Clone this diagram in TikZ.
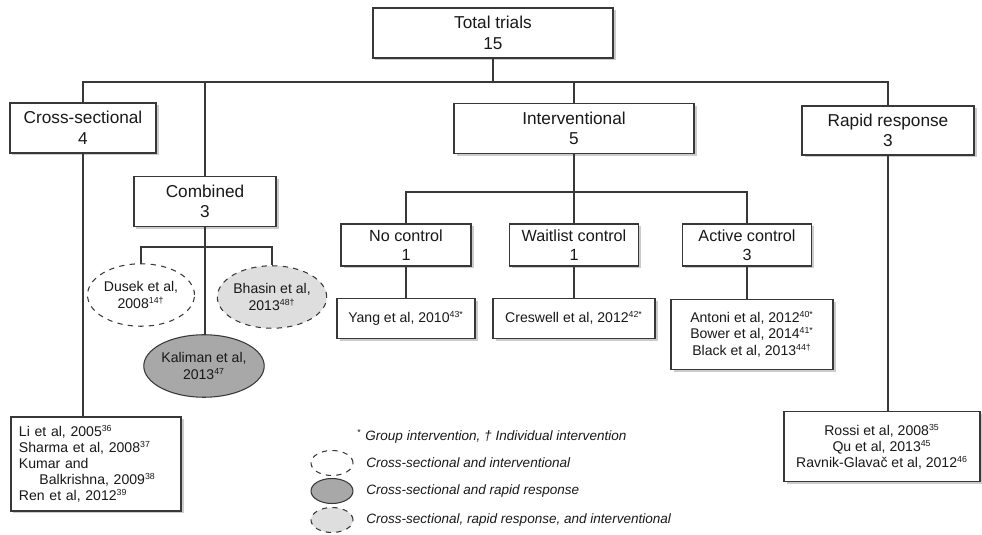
\documentclass[tikz,border=0pt]{standalone}
\usepackage{fontspec}
\setmainfont{Liberation Sans}
\usetikzlibrary{shapes.geometric,shadows}
\definecolor{linegray}{rgb}{0.22,0.22,0.22}
\definecolor{textgray}{rgb}{0.1,0.1,0.1}
\definecolor{lightfill}{rgb}{0.87,0.87,0.87}
\definecolor{darkfill}{rgb}{0.66,0.66,0.66}
\newcommand{\refno}[1]{\textsuperscript{\fontsize{5}{5}\selectfont #1}}

\begin{document}
\begin{tikzpicture}[x=0.2mm,y=-0.2mm,
    link/.style={draw=linegray,line width=0.6pt},
    box/.style={draw=linegray,line width=0.6pt,fill=white,inner sep=0pt,align=center,text=textgray,
      drop shadow={shadow xshift=0.5mm,shadow yshift=-0.5mm,fill=black,opacity=0.2}},
    bigbox/.style={box,font=\fontsize{9.8}{11.7}\selectfont},
    midbox/.style={box,font=\fontsize{9.2}{10.8}\selectfont},
    refbox/.style={box,font=\fontsize{8}{9.6}\selectfont},
    study/.style={ellipse,draw=linegray,line width=0.6pt,inner sep=0pt,align=center,text=textgray,
      font=\fontsize{8}{9.5}\selectfont,minimum width=21.4mm,minimum height=12.5mm},
    bothkind/.style={study,dashed,fill=white},
    rapidkind/.style={study,fill=darkfill},
    allkind/.style={study,dashed,fill=lightfill},
    keyshape/.style={minimum width=8.4mm,minimum height=5mm},
    legend/.style={font=\fontsize{7.7}{9}\selectfont\itshape,text=textgray,anchor=west,inner sep=0pt}]
    \useasboundingbox (0,0) rectangle (982,535);
    % top level
    \node[bigbox,minimum width=48mm,minimum height=10mm] (total) at (493,33) {Total trials\\15};
    \node[bigbox,minimum width=29.2mm,minimum height=10mm] (cross) at (83,128) {Cross-sectional\\4};
    \node[bigbox,minimum width=28.4mm,minimum height=9.9mm] (comb) at (205,201.5) {Combined\\3};
    \node[bigbox,minimum width=48mm,minimum height=10mm] (interv) at (574,128.3) {Interventional\\5};
    \node[bigbox,minimum width=34.4mm,minimum height=9.8mm] (rapid) at (888,130.5) {Rapid response\\3};
    % interventional branches
    \node[midbox,minimum width=26mm,minimum height=8.4mm] (noctl) at (406,245) {No control\\1};
    \node[midbox,minimum width=25.8mm,minimum height=8.4mm] (wait) at (574,245) {Waitlist control\\1};
    \node[midbox,minimum width=25.8mm,minimum height=8.4mm] (active) at (747,245) {Active control\\3};
    % studies
    \node[refbox,minimum width=27.6mm,minimum height=8mm] (yang) at (406,318.3) {Yang et al, 2010\refno{43*}};
    \node[refbox,minimum width=32.4mm,minimum height=8mm] (cres) at (574,318.3) {Creswell et al, 2012\refno{42*}};
    \node[refbox,minimum width=32.4mm,minimum height=14mm] (antoni) at (752,334.3)
      {Antoni et al, 2012\refno{40*}\\Bower et al, 2014\refno{41*}\\Black et al, 2013\refno{44†}};
    \node[refbox,font=\fontsize{8}{9.1}\selectfont,align=left,text width=30.8mm,inner xsep=1.6mm,minimum height=18.8mm] (li) at (96,464)
      {Li et al, 2005\refno{36}\\Sharma et al, 2008\refno{37}\\Kumar and\\\hspace*{4.1mm}Balkrishna, 2009\refno{38}\\Ren et al, 2012\refno{39}};
    \node[refbox,font=\fontsize{8}{9.3}\selectfont,minimum width=39.2mm,minimum height=14mm] (rossi) at (882,446.7)
      {Rossi et al, 2008\refno{35}\\Qu et al, 2013\refno{45}\\Ravnik-Glavač et al, 2012\refno{46}};
    % combined studies
    \node[bothkind] (dusek) at (141,295) {Dusek et al,\\2008\refno{14†}};
    \node[allkind] (bhasin) at (272,297) {Bhasin et al,\\2013\refno{48†}};
    \node[rapidkind] (kaliman) at (204,366) {Kaliman et al,\\2013\refno{47}};
    % connectors
    \coordinate (bus) at (493,82);
    \coordinate (ibus) at (574,192);
    \coordinate (cbus) at (205,247);
    \draw[link] (total.south) -- (bus);
    \draw[link] (cross.north) -- (cross.north |- bus) -- (rapid.north |- bus) -- (rapid.north);
    \draw[link] (comb.north) -- (comb.north |- bus);
    \draw[link] (interv.north) -- (interv.north |- bus);
    \draw[link] (interv.south) -- (ibus);
    \draw[link] (noctl.north) -- (noctl.north |- ibus) -- (active.north |- ibus) -- (active.north);
    \draw[link] (wait.north) -- (wait.north |- ibus);
    \draw[link] (noctl.south) -- (yang.north);
    \draw[link] (wait.south) -- (cres.north);
    \draw[link] (active.south) -- (active.south |- antoni.north);
    \draw[link] (cross.south) -- (cross.south |- li.north);
    \draw[link] (rapid.south) -- (rapid.south |- rossi.north);
    \draw[link] (comb.south) -- (comb.south |- kaliman.north);
    \draw[link] (dusek.north) -- (dusek.north |- cbus) -- (bhasin.north |- cbus) -- (bhasin.north);
    % legend
    \node[legend] (note) at (357,436) {{\upshape\refno{*}} Group intervention, † Individual intervention};
    \node[bothkind,keyshape] (keyboth) at (332,463) {};
    \node[rapidkind,keyshape] (keyrapid) at (332,491) {};
    \node[allkind,keyshape] (keyall) at (332,520) {};
    \node[legend] (txtboth) at (366,463) {Cross-sectional and interventional};
    \node[legend] (txtrapid) at (366,491) {Cross-sectional and rapid response};
    \node[legend] (txtall) at (366,520) {Cross-sectional, rapid response, and interventional};
\end{tikzpicture}
\end{document}
